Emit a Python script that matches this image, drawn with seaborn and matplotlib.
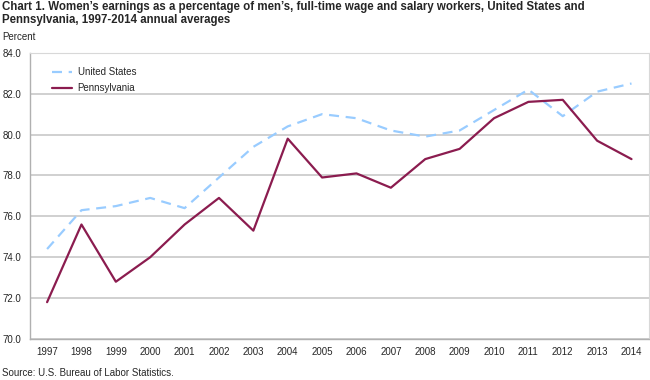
import matplotlib
matplotlib.use("Agg")
import matplotlib.pyplot as plt
import seaborn as sns
import pandas as pd

years = list(range(1997, 2015))
us = [74.4, 76.3, 76.5, 76.9, 76.4, 77.9, 79.4, 80.4, 81.0, 80.8,
      80.2, 79.9, 80.2, 81.2, 82.2, 80.9, 82.1, 82.5]
pa = [71.8, 75.6, 72.8, 74.0, 75.6, 76.9, 75.3, 79.8, 77.9, 78.1,
      77.4, 78.8, 79.3, 80.8, 81.6, 81.7, 79.7, 78.8]
yticks = [70, 72, 74, 76, 78, 80, 82, 84]

df = pd.DataFrame({"Year": years, "United States": us, "Pennsylvania": pa})

sns.set_style("white")
plt.rcParams['font.family'] = ['Liberation Sans', 'DejaVu Sans']

fig = plt.figure(figsize=(6.5, 3.8), dpi=100)
ax = fig.add_axes([0.046, 0.108, 0.952, 0.753])

sns.lineplot(data=df, x="Year", y="United States", ax=ax, color="#99ccff",
             linestyle=(0, (4.5, 3)), linewidth=1.6, label="United States")
sns.lineplot(data=df, x="Year", y="Pennsylvania", ax=ax, color="#8b1c4f",
             linewidth=1.6, label="Pennsylvania")

ax.set_xlim(1996.5, 2014.5)
ax.set_ylim(70, 84)
ax.set_yticks(yticks)
ax.set_yticklabels([f"{v:.1f}" for v in yticks], fontsize=7)
ax.set_xticks(years)
ax.set_xticklabels([str(y) for y in years], fontsize=7)
ax.set_xlabel("")
ax.set_ylabel("")
ax.grid(axis="y", color="#c8c8c8", linewidth=1.2)
ax.set_axisbelow(True)
for s in ["top", "right"]:
    ax.spines[s].set_color("#d8d8d8")
    ax.spines[s].set_linewidth(0.8)
for s in ["left", "bottom"]:
    ax.spines[s].set_color("#b0b0b0")
    ax.spines[s].set_linewidth(1.0)
ax.tick_params(axis="x", direction="in", length=3, color="#c0c0c0", pad=6)
ax.tick_params(axis="y", length=0, pad=6)

ax.legend(loc="upper left", frameon=False, fontsize=7, handlelength=2.0,
          handletextpad=0.6, bbox_to_anchor=(0.022, 0.98), labelspacing=0.6)

fig.text(0.003, 0.998, "Chart 1. Women’s earnings as a percentage of men’s, full-time wage and salary workers, United States and\nPennsylvania, 1997-2014 annual averages",
         fontsize=8.3, fontweight="bold", va="top", ha="left", linespacing=1.12)
fig.text(0.003, 0.903, "Percent", fontsize=7, va="center", ha="left")
fig.text(0.003, 0.005, "Source: U.S. Bureau of Labor Statistics.", fontsize=7, va="bottom", ha="left")

fig.savefig("out.png", dpi=100)
